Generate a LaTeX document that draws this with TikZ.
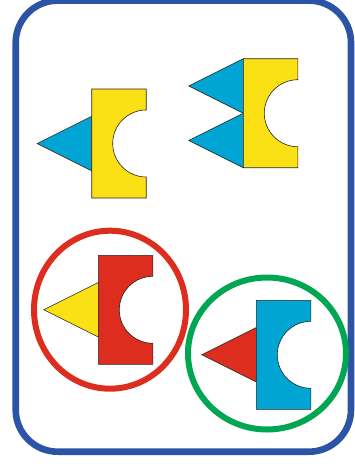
\documentclass[tikz,border=0pt]{standalone}
\usetikzlibrary{positioning}
\definecolor{yellow}{RGB}{252,224,22}
\definecolor{cyan}{RGB}{0,165,212}
\definecolor{red}{RGB}{221,45,30}
\definecolor{green}{RGB}{0,166,82}
\definecolor{frame}{RGB}{43,84,166}

\begin{document}
\begin{tikzpicture}[x=1pt, y=-1pt,
		part/.style={draw=black!85, line width=0.6pt, line join=miter},
		ring/.style={line width=6pt},
		pics/notchbox/.style={code={
			\draw[part, fill=#1] (0,0) -- (54.5,0) -- (54.5,21)
				arc[start angle=270, end angle=90, radius=33.5]
				-- (54.5,109) -- (0,109) -- cycle;
		}},
		pics/wedge/.style={code={
			\draw[part, fill=#1] (0,0) -- (0,54.5) -- (-54.5,27.25) -- cycle;
		}}]
				\useasboundingbox (0,0) rectangle (354,466);
				% Draw frame
				\draw[frame, line width=6.6pt, rounded corners=42pt] (15.7,0.6) rectangle (351,451.7);
				% Draw pieces
				\pic at (91.7,116.3) {wedge=cyan};
				\pic at (91.7,89) {notchbox=yellow};
				\pic at (243.3,58.7) {wedge=cyan};
				\pic at (243.3,113.2) {wedge=cyan};
				\pic at (243.3,58.7) {notchbox=yellow};
				\pic at (98.3,282.5) {wedge=yellow};
				\pic at (98.3,255.3) {notchbox=red};
				\pic at (256.3,327.5) {wedge=red};
				\pic at (256.3,300.3) {notchbox=cyan};
				% Mark rings
				\draw[ring, red] (110,309.7) ellipse[x radius=76, y radius=79];
				\draw[ring, green] (267,353.5) ellipse[x radius=79, y radius=76];
			\end{tikzpicture}
\end{document}
